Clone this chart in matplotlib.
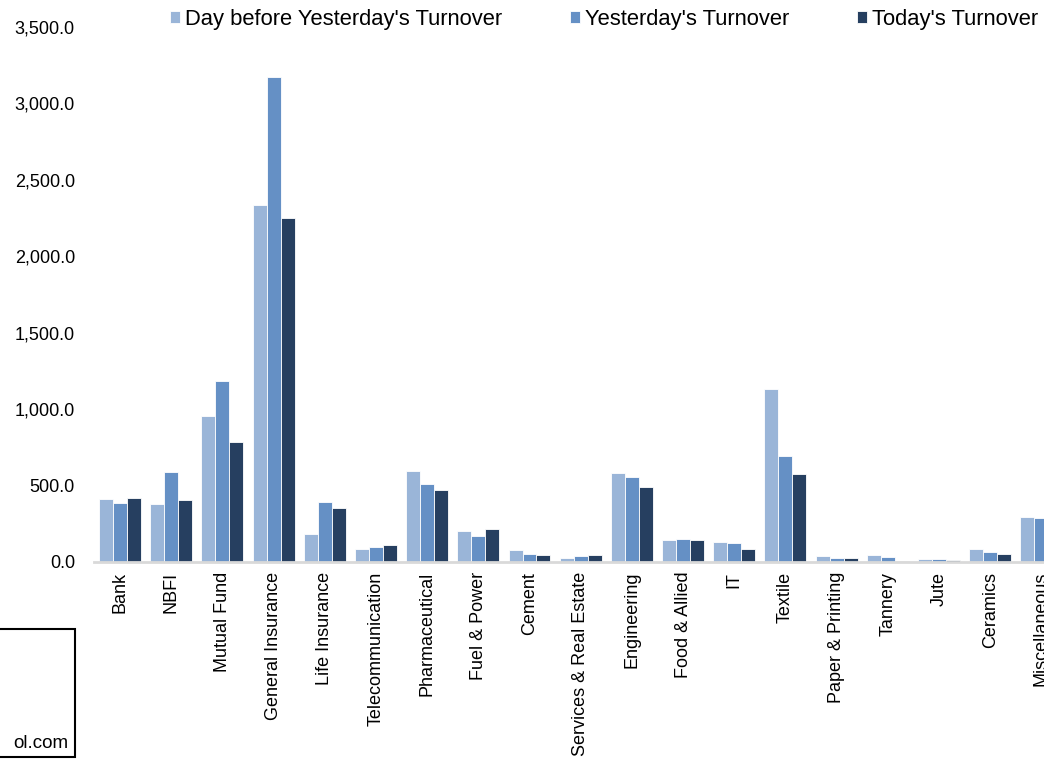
import matplotlib
matplotlib.use("Agg")
from matplotlib import pyplot as plt
from matplotlib.patches import Rectangle
import numpy as np

plt.rcParams['font.family'] = ['Liberation Sans', 'DejaVu Sans']

sectors = ['Bank', 'NBFI', 'Mutual Fund', 'General Insurance', 'Life Insurance',
           'Telecommunication', 'Pharmaceutical', 'Fuel & Power', 'Cement',
           'Services & Real Estate', 'Engineering', 'Food & Allied', 'IT',
           'Textile', 'Paper & Printing', 'Tannery', 'Jute', 'Ceramics',
           'Miscellaneous']
day_before = [412, 381, 955, 2335, 181, 87, 595, 205, 76, 26, 580, 142, 131,
              1131, 39, 44, 18, 85, 294]
yesterday = [386, 591, 1184, 3172, 392, 98, 508, 168, 50, 39, 558, 150, 124,
             691, 26, 33, 20, 63, 286]
today = [417, 405, 783, 2250, 351, 109, 471, 214, 48, 44, 493, 146, 83,
         574, 26, 9, 15, 52, 270]
series_names = ["Day before Yesterday's Turnover", "Yesterday's Turnover",
                "Today's Turnover"]
colors = ['#9AB5D8', '#6590C5', '#263F60']

fig = plt.figure(figsize=(10.44, 7.63), dpi=100)
# axes runs off the right edge, like the cropped original
ax = fig.add_axes([94.4 / 1044, 201 / 763, 972.6 / 1044, 535 / 763])

x = np.arange(len(sectors))
w = 0.273
for i, (vals, name, c) in enumerate(zip([day_before, yesterday, today], series_names, colors)):
    ax.bar(x + (i - 1) * w, vals, w, color=c, edgecolor='white', linewidth=0.6, label=name)

ax.set_xlim(-0.5, len(sectors) - 0.5)
ax.set_ylim(0, 3500)
ax.set_yticks(np.arange(0, 3501, 500))
ax.set_yticklabels(['{:,.1f}'.format(v) for v in np.arange(0, 3501, 500)])
ax.set_xticks(x)
ax.set_xticklabels(sectors, rotation=90)
ax.tick_params(axis='y', length=0, pad=14, labelsize=13)
ax.tick_params(axis='x', length=0, pad=7, labelsize=13)
for s in ['top', 'right', 'left']:
    ax.spines[s].set_visible(False)
ax.spines['bottom'].set_color('#D9D9D9')
ax.spines['bottom'].set_linewidth(2)

fig.legend(loc='upper left', bbox_to_anchor=(159 / 1044, 1.003), ncol=3, frameon=False,
           fontsize=15.8, handlelength=0.47, handleheight=0.47, handletextpad=0.2,
           columnspacing=3.1, borderaxespad=0.1)

# partly cropped source box at bottom left
fig.patches.append(Rectangle((-0.05, 6 / 763), 0.05 + 75 / 1044, 128 / 763,
                             transform=fig.transFigure, fill=False,
                             edgecolor='black', linewidth=1.5))
fig.text(68 / 1044, 15 / 763, 'ol.com', ha='right', va='baseline', fontsize=13.5)

fig.savefig('out.png', dpi=100)
